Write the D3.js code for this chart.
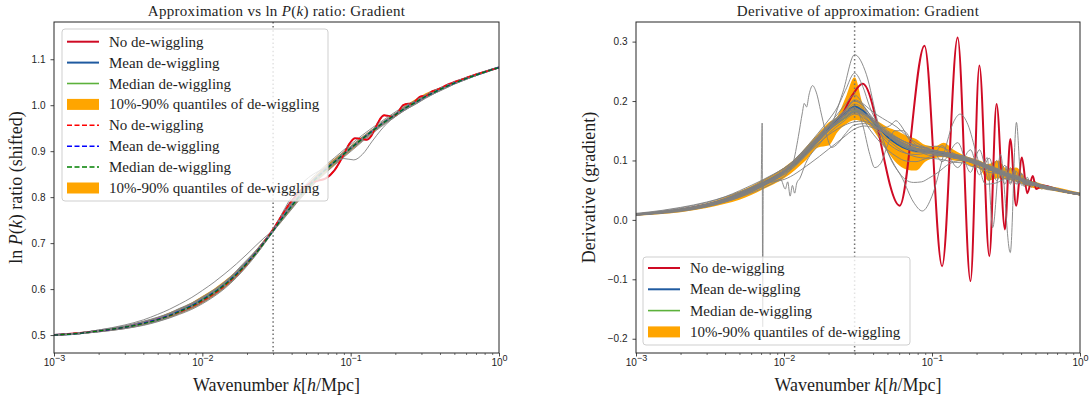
<!DOCTYPE html>
<html>
<head>
<meta charset="utf-8">
<script src="https://cdn.jsdelivr.net/npm/d3@7"></script>
<style>
  body { margin: 0; background: #fff; }
  svg { display: block; }
</style>
</head>
<body>
<svg id="chart" width="1090" height="400"></svg>
<script>
// ---------------------------------------------------------------
// Shared wavenumber grid k [h/Mpc]
const kGrid = [0.001,0.0015,0.002,0.003,0.004,0.005,0.006,0.007,0.0085,0.01,
               0.012,0.014,0.017,0.02,0.023,0.026,0.03,0.034,0.038,0.043,
               0.05,0.058,0.067,0.078,0.09,0.105,0.12,0.14,0.16,0.185,
               0.21,0.24,0.28,0.32,0.37,0.43,0.5,0.6,0.72,0.85,
               1.0];

// ---- Left panel: ln P(k) ratio (shifted) ----
const lnMean   = [0.500,0.504,0.509,0.517,0.526,0.534,0.543,0.552,0.564,0.577,
                  0.593,0.609,0.633,0.657,0.679,0.701,0.727,0.752,0.772,0.794,
                  0.818,0.840,0.859,0.877,0.894,0.912,0.927,0.944,0.958,0.972,
                  0.984,0.996,1.008,1.019,1.029,1.039,1.048,1.058,1.067,1.075,
                  1.082];
const lnMedian = [0.500,0.504,0.509,0.517,0.525,0.533,0.542,0.551,0.563,0.576,
                  0.592,0.608,0.632,0.656,0.678,0.700,0.727,0.751,0.771,0.793,
                  0.817,0.839,0.858,0.877,0.894,0.912,0.927,0.944,0.958,0.972,
                  0.984,0.996,1.008,1.019,1.029,1.039,1.048,1.058,1.067,1.075,
                  1.082];
const lnQ10    = [0.499,0.503,0.507,0.514,0.522,0.530,0.538,0.546,0.557,0.569,
                  0.585,0.601,0.626,0.651,0.674,0.697,0.724,0.746,0.765,0.786,
                  0.810,0.832,0.851,0.870,0.888,0.906,0.922,0.939,0.954,0.968,
                  0.980,0.993,1.005,1.016,1.027,1.037,1.046,1.056,1.066,1.074,
                  1.081];
const lnQ90    = [0.501,0.506,0.511,0.520,0.530,0.539,0.549,0.558,0.571,0.585,
                  0.601,0.617,0.640,0.663,0.685,0.706,0.730,0.758,0.780,0.801,
                  0.825,0.847,0.866,0.884,0.900,0.917,0.932,0.948,0.962,0.976,
                  0.988,1.002,1.015,1.026,1.034,1.041,1.050,1.060,1.068,1.076,
                  1.083];
const lnRedK   = [0.001,0.002,0.003,0.005,0.007,0.01,0.014,0.02,0.026,0.03,
                  0.034,0.04,0.047,0.054,0.0605,0.068,0.078,0.089,0.098,0.107,
                  0.117,0.128,0.138,0.149,0.158,0.168,0.182,0.195,0.209,0.226,
                  0.244,0.258,0.273,0.292,0.311,0.325,0.338,0.355,0.37,0.405,
                  0.44,0.48,0.55,0.7,0.85,1.0];
const lnRed    = [0.500,0.509,0.517,0.534,0.550,0.574,0.606,0.655,0.702,0.730,
                  0.758,0.792,0.818,0.831,0.836,0.841,0.859,0.890,0.916,0.928,
                  0.927,0.925,0.934,0.955,0.970,0.978,0.976,0.975,0.985,1.000,
                  1.003,1.003,1.009,1.018,1.020,1.021,1.025,1.030,1.032,1.037,
                  1.043,1.048,1.055,1.067,1.075,1.082];
// individual de-wiggled realisations (grey)
const lnSamples = [
  [0.500,0.505,0.511,0.520,0.530,0.539,0.548,0.558,0.570,0.583,0.599,0.615,0.639,0.662,0.684,0.705,0.729,0.756,0.777,0.799,
   0.823,0.845,0.864,0.882,0.899,0.916,0.931,0.947,0.961,0.975,0.987,0.999,1.010,1.021,1.031,1.041,1.050,1.059,1.068,1.076,1.082],
  [0.500,0.503,0.507,0.514,0.522,0.530,0.538,0.547,0.558,0.570,0.586,0.602,0.627,0.652,0.675,0.698,0.726,0.748,0.767,0.788,
   0.812,0.834,0.853,0.872,0.889,0.908,0.923,0.941,0.955,0.969,0.982,0.994,1.006,1.017,1.028,1.038,1.047,1.057,1.066,1.074,1.082],
  [0.500,0.503,0.508,0.515,0.523,0.531,0.540,0.549,0.561,0.573,0.589,0.605,0.630,0.655,0.678,0.701,0.728,0.755,0.776,0.797,
   0.820,0.841,0.860,0.878,0.895,0.912,0.928,0.945,0.959,0.973,0.985,0.997,1.009,1.020,1.030,1.040,1.049,1.058,1.067,1.075,1.082],
  [0.500,0.504,0.510,0.518,0.527,0.536,0.545,0.555,0.567,0.580,0.596,0.612,0.636,0.659,0.680,0.701,0.726,0.750,0.769,0.790,
   0.814,0.836,0.856,0.875,0.893,0.911,0.926,0.943,0.957,0.971,0.983,0.995,1.007,1.018,1.028,1.038,1.047,1.057,1.066,1.075,1.082],
  [0.500,0.504,0.508,0.516,0.524,0.532,0.541,0.550,0.562,0.575,0.591,0.607,0.631,0.655,0.677,0.700,0.727,0.753,0.774,0.796,
   0.819,0.841,0.860,0.879,0.897,0.914,0.929,0.946,0.960,0.974,0.986,0.998,1.009,1.020,1.030,1.040,1.049,1.058,1.067,1.075,1.082],
  [0.500,0.505,0.510,0.519,0.528,0.537,0.546,0.556,0.568,0.581,0.597,0.613,0.637,0.660,0.682,0.703,0.728,0.751,0.770,0.791,
   0.815,0.837,0.857,0.876,0.892,0.910,0.925,0.942,0.956,0.970,0.983,0.995,1.007,1.018,1.029,1.039,1.048,1.058,1.067,1.075,1.082],
  [0.500,0.505,0.510,0.519,0.529,0.538,0.547,0.557,0.569,0.582,0.598,0.614,0.638,0.661,0.683,0.704,0.729,0.759,0.781,0.803,
   0.827,0.849,0.868,0.886,0.903,0.920,0.935,0.951,0.964,0.978,0.990,1.001,1.012,1.023,1.033,1.042,1.051,1.060,1.069,1.076,1.082],
  [0.500,0.503,0.507,0.514,0.521,0.529,0.537,0.545,0.556,0.568,0.584,0.600,0.625,0.650,0.674,0.697,0.725,0.746,0.765,0.786,
   0.810,0.832,0.851,0.870,0.887,0.905,0.921,0.938,0.953,0.967,0.980,0.992,1.004,1.016,1.026,1.036,1.046,1.056,1.066,1.074,1.082],
  [0.500,0.505,0.511,0.522,0.533,0.545,0.556,0.567,0.582,0.597,0.615,0.632,0.655,0.676,0.695,0.711,0.729,0.753,0.773,0.795,
   0.819,0.841,0.860,0.878,0.895,0.913,0.928,0.945,0.959,0.973,0.985,0.997,1.008,1.019,1.029,1.039,1.048,1.058,1.067,1.075,1.082],
  [0.500,0.504,0.509,0.517,0.525,0.533,0.542,0.550,0.562,0.574,0.590,0.606,0.630,0.654,0.677,0.700,0.727,0.761,0.789,0.815,
   0.838,0.853,0.863,0.876,0.884,0.881,0.893,0.922,0.946,0.967,0.980,0.992,1.004,1.015,1.026,1.036,1.046,1.056,1.066,1.074,1.082],
  [0.500,0.504,0.509,0.517,0.526,0.534,0.543,0.551,0.563,0.575,0.590,0.605,0.640,0.664,0.684,0.703,0.728,0.752,0.772,0.794,
   0.818,0.840,0.859,0.877,0.894,0.912,0.927,0.944,0.958,0.972,0.984,0.996,1.008,1.019,1.029,1.039,1.048,1.058,1.067,1.075,1.082]
];

// ---- Right panel: derivative (gradient) ----
const dMean   = [0.009,0.013,0.017,0.025,0.034,0.043,0.052,0.060,0.071,0.081,
                 0.096,0.113,0.136,0.155,0.168,0.179,0.191,0.184,0.172,0.157,
                 0.140,0.128,0.120,0.116,0.115,0.113,0.111,0.107,0.104,0.099,
                 0.094,0.087,0.080,0.075,0.070,0.064,0.059,0.054,0.050,0.046,
                 0.043];
const dMedian = [0.009,0.013,0.017,0.025,0.034,0.043,0.052,0.060,0.070,0.080,
                 0.095,0.112,0.134,0.152,0.163,0.172,0.183,0.181,0.171,0.157,
                 0.141,0.129,0.121,0.117,0.115,0.113,0.111,0.107,0.104,0.099,
                 0.094,0.087,0.080,0.075,0.070,0.064,0.059,0.054,0.050,0.046,
                 0.043];
const dQ10    = [0.007,0.010,0.013,0.020,0.027,0.034,0.042,0.050,0.060,0.070,
                 0.085,0.100,0.122,0.125,0.148,0.160,0.168,0.165,0.158,0.140,
                 0.115,0.095,0.085,0.083,0.098,0.104,0.106,0.100,0.098,0.090,
                 0.086,0.066,0.070,0.068,0.064,0.058,0.053,0.051,0.047,0.044,
                 0.041];
const dQ90    = [0.010,0.014,0.019,0.028,0.038,0.048,0.057,0.066,0.077,0.088,
                 0.104,0.122,0.145,0.164,0.175,0.205,0.240,0.195,0.172,0.166,
                 0.156,0.150,0.142,0.136,0.126,0.124,0.130,0.118,0.110,0.104,
                 0.100,0.094,0.100,0.086,0.088,0.070,0.064,0.058,0.054,0.050,
                 0.046];
const dRedK   = [0.001,0.002,0.004,0.007,0.01,0.014,0.02,0.024,0.029,0.034,
                 0.0605,0.089,0.117,0.149,0.182,0.209,0.244,0.273,0.311,0.338,
                 0.370,0.405,0.440,0.480,0.505,0.560,0.700,0.850,1.000];
const dRed    = [0.009,0.017,0.034,0.060,0.081,0.113,0.155,0.172,0.210,0.229,
                 0.024,0.293,-0.078,0.307,-0.103,0.260,-0.061,0.195,-0.016,0.136,
                 0.024,0.105,0.045,0.074,0.052,0.058,0.051,0.046,0.043];
// realisations sampled on kGrid
const dSamples = [
  [0.009,0.014,0.018,0.027,0.036,0.046,0.055,0.064,0.076,0.087,0.103,0.121,0.146,0.168,0.190,0.218,0.247,0.225,0.190,0.162,
   0.146,0.138,0.130,0.124,0.120,0.117,0.114,0.110,0.106,0.101,0.096,0.090,0.082,0.077,0.072,0.066,0.061,0.055,0.051,0.047,0.044],
  [0.008,0.012,0.016,0.023,0.031,0.040,0.049,0.057,0.067,0.077,0.092,0.108,0.128,0.143,0.153,0.160,0.165,0.166,0.163,0.155,
   0.143,0.132,0.124,0.119,0.116,0.113,0.110,0.106,0.103,0.098,0.093,0.086,0.080,0.074,0.069,0.063,0.058,0.053,0.049,0.045,0.042],
  [0.009,0.013,0.017,0.025,0.033,0.042,0.051,0.059,0.070,0.080,0.095,0.112,0.135,0.156,0.170,0.182,0.195,0.188,0.174,0.158,
   0.142,0.130,0.121,0.114,0.116,0.111,0.114,0.104,0.108,0.097,0.098,0.083,0.086,0.071,0.075,0.061,0.062,0.052,0.051,0.046,0.043],
  [0.010,0.014,0.018,0.026,0.035,0.044,0.053,0.061,0.072,0.083,0.099,0.117,0.140,0.160,0.178,0.195,0.210,0.195,0.170,0.150,
   0.130,0.118,0.112,0.110,0.112,0.114,0.113,0.108,0.103,0.097,0.092,0.086,0.079,0.074,0.069,0.064,0.059,0.054,0.050,0.046,0.043],
  [0.009,0.013,0.017,0.024,0.032,0.041,0.050,0.058,0.069,0.079,0.094,0.110,0.132,0.150,0.163,0.172,0.180,0.178,0.170,0.160,
   0.148,0.138,0.130,0.124,0.122,0.124,0.121,0.112,0.105,0.100,0.095,0.089,0.083,0.078,0.071,0.065,0.060,0.055,0.051,0.047,0.044],
  [0.011,0.016,0.021,0.030,0.039,0.049,0.058,0.066,0.077,0.087,0.101,0.116,0.136,0.152,0.164,0.173,0.183,0.180,0.171,0.160,
   0.147,0.136,0.127,0.121,0.118,0.115,0.113,0.109,0.105,0.101,0.096,0.091,0.085,0.080,0.074,0.068,0.062,0.057,0.052,0.048,0.045],
  [0.008,0.012,0.015,0.022,0.030,0.038,0.047,0.055,0.066,0.076,0.091,0.108,0.131,0.152,0.166,0.176,0.186,0.178,0.165,0.150,
   0.135,0.122,0.112,0.106,0.104,0.103,0.101,0.097,0.096,0.090,0.088,0.080,0.078,0.068,0.070,0.060,0.058,0.051,0.049,0.045,0.042],
  [0.009,0.013,0.017,0.025,0.034,0.043,0.052,0.060,0.071,0.082,0.098,0.115,0.139,0.158,0.172,0.184,0.200,0.192,0.178,0.162,
   0.146,0.134,0.125,0.120,0.118,0.116,0.114,0.111,0.107,0.102,0.097,0.091,0.084,0.078,0.073,0.066,0.061,0.056,0.051,0.047,0.044],
  [0.009,0.013,0.018,0.026,0.035,0.044,0.053,0.061,0.072,0.082,0.097,0.114,0.137,0.157,0.172,0.186,0.202,0.196,0.186,0.176,
   0.166,0.156,0.142,0.130,0.122,0.116,0.112,0.108,0.105,0.100,0.095,0.088,0.082,0.076,0.071,0.065,0.060,0.055,0.051,0.047,0.044],
  [0.009,0.013,0.017,0.025,0.033,0.042,0.051,0.059,0.070,0.080,0.095,0.111,0.133,0.151,0.163,0.173,0.183,0.170,0.152,0.135,
   0.118,0.106,0.099,0.098,0.103,0.108,0.108,0.104,0.101,0.097,0.092,0.085,0.078,0.073,0.068,0.063,0.058,0.053,0.049,0.045,0.042]
];
// realisations with their own k sampling
const dOutliers = [
  { k: [0.001,0.002,0.003,0.005,0.007,0.01,0.014,0.02,0.025,0.03,0.036,0.043,0.052,0.063,0.075,0.086,0.1,0.12,0.14,0.155,0.175,0.2,0.23,0.27,0.32,0.4,0.5,0.65,0.8,1.0],
    v: [0.009,0.018,0.026,0.045,0.062,0.085,0.120,0.150,0.215,0.278,0.245,0.165,0.105,0.070,0.030,0.015,0.040,0.110,0.165,0.178,0.160,0.110,0.060,0.062,0.070,0.062,0.057,0.051,0.047,0.044] },
  { k: [0.001,0.003,0.01,0.02,0.03,0.05,0.08,0.12,0.16,0.19,0.215,0.236,0.257,0.29,0.338,0.372,0.40,0.45,0.55,0.7,1.0],
    v: [0.009,0.025,0.080,0.152,0.185,0.142,0.116,0.110,0.105,0.098,0.085,0.105,-0.013,0.110,-0.055,0.164,0.066,0.062,0.056,0.050,0.043] },
  { k: [0.001,0.003,0.005,0.007,0.009,0.0105,0.0115,0.0125,0.0133,0.0137,0.0142,0.0148,0.0156,0.0165,0.018,0.0195,0.021,0.023,0.026,0.03,0.035,0.042,0.05,0.065,0.09,0.15,0.3,1.0],
    v: [0.008,0.022,0.038,0.052,0.066,0.078,0.095,0.140,0.180,0.196,0.190,0.212,0.226,0.215,0.175,0.140,0.122,0.128,0.145,0.160,0.162,0.155,0.142,0.125,0.113,0.103,0.077,0.043] },
  { k: [0.001,0.002,0.003,0.004,0.005,0.006,0.0068,0.0070,0.00712,0.00718,0.00724,0.0074,0.0078,0.0085,0.0095,0.0102,0.0106,0.0110,0.0114,0.0118,0.0122,0.0128,0.014,0.017,0.02,0.025,0.03,0.04,0.06,0.1,0.2,0.4,1.0],
    v: [0.009,0.017,0.024,0.032,0.040,0.050,0.056,0.060,0.163,-0.180,0.055,0.060,0.062,0.065,0.068,0.052,0.064,0.040,0.058,0.045,0.062,0.070,0.095,0.125,0.145,0.165,0.178,0.160,0.132,0.112,0.097,0.068,0.043] },
  { k: [0.001,0.002,0.003,0.005,0.007,0.0085,0.01,0.015,0.02,0.025,0.03,0.035,0.04,0.05,0.06,0.075,0.09,0.11,0.14,0.2,0.3,0.5,1.0],
    v: [0.010,0.020,0.029,0.047,0.060,0.064,0.068,0.095,0.119,0.138,0.153,0.158,0.155,0.145,0.133,0.122,0.116,0.112,0.106,0.094,0.078,0.058,0.042] },
  { k: [0.001,0.003,0.01,0.02,0.026,0.03,0.035,0.04,0.047,0.053,0.057,0.062,0.07,0.08,0.1,0.14,0.2,0.3,0.5,1.0],
    v: [0.010,0.026,0.083,0.160,0.185,0.200,0.190,0.168,0.155,0.160,0.167,0.158,0.135,0.118,0.112,0.108,0.095,0.079,0.060,0.044] },
  { k: [0.001,0.003,0.01,0.02,0.026,0.03,0.036,0.043,0.05,0.058,0.066,0.075,0.085,0.095,0.11,0.13,0.16,0.2,0.3,0.5,1.0],
    v: [0.009,0.024,0.079,0.150,0.172,0.182,0.170,0.145,0.115,0.085,0.068,0.063,0.064,0.070,0.080,0.094,0.100,0.095,0.079,0.059,0.043] },
  { k: [0.001,0.003,0.01,0.02,0.026,0.03,0.034,0.038,0.041,0.045,0.05,0.056,0.064,0.075,0.09,0.12,0.2,0.3,0.5,1.0],
    v: [0.009,0.025,0.081,0.155,0.178,0.190,0.160,0.110,0.088,0.095,0.125,0.150,0.150,0.130,0.117,0.110,0.094,0.078,0.059,0.043] },
  { k: [0.001,0.003,0.01,0.02,0.03,0.04,0.05,0.065,0.08,0.1,0.117,0.149,0.182,0.209,0.244,0.273,0.311,0.338,0.370,0.405,0.440,0.5,0.6,0.8,1.0],
    v: [0.009,0.025,0.082,0.157,0.188,0.165,0.142,0.122,0.117,0.118,0.098,0.130,0.080,0.118,0.066,0.100,0.060,0.088,0.060,0.078,0.058,0.060,0.054,0.048,0.043] },
  { k: [0.001,0.003,0.01,0.02,0.03,0.04,0.05,0.065,0.08,0.1,0.117,0.149,0.182,0.209,0.244,0.273,0.311,0.338,0.370,0.405,0.440,0.5,0.6,0.8,1.0],
    v: [0.010,0.026,0.080,0.153,0.186,0.168,0.145,0.126,0.116,0.108,0.125,0.088,0.118,0.076,0.104,0.066,0.092,0.060,0.082,0.058,0.068,0.058,0.054,0.048,0.043] },
  { k: [0.001,0.003,0.01,0.02,0.03,0.04,0.05,0.065,0.08,0.1,0.13,0.16,0.2,0.24,0.28,0.3,0.32,0.34,0.36,0.38,0.40,0.42,0.44,0.47,0.5,0.55,0.6,0.8,1.0],
    v: [0.009,0.024,0.080,0.150,0.182,0.170,0.150,0.132,0.125,0.118,0.112,0.108,0.100,0.092,0.085,0.070,0.090,0.062,0.085,0.060,0.078,0.056,0.072,0.055,0.064,0.052,0.056,0.048,0.043] }
];

// Axis ticks and reference scale
const xTicks = [0.001, 0.01, 0.1, 1];
const xTickExps = ['−3', '−2', '−1', '0'];
const yTicksLeft = [0.5, 0.6, 0.7, 0.8, 0.9, 1.0, 1.1];
const yTicksRight = [-0.2, -0.1, 0.0, 0.1, 0.2, 0.3];
const kMarker = 0.03;

const legendLabels = ['No de-wiggling', 'Mean de-wiggling', 'Median de-wiggling',
                      '10%-90% quantiles of de-wiggling'];

// ---------------------------------------------------------------
const RED = '#cf0a24', BLUE = '#1f5aa0', GREEN = '#5cb13b',
      ORANGE = '#ffa500', GRAY = '#808080';
const SERIF = '"Liberation Serif", "Times New Roman", serif';
const INK = '#1e1e1e';

const svg = d3.select('#chart');
const defs = svg.append('defs');

function makePanel(cfg) {
  const x = d3.scaleLog().domain([1e-3, 1]).range([cfg.x0, cfg.x1]);
  const y = d3.scaleLinear().domain(cfg.yDomain).range([cfg.y1, cfg.y0]);
  defs.append('clipPath').attr('id', cfg.id + '-clip')
    .append('rect').attr('x', cfg.x0).attr('y', cfg.y0)
    .attr('width', cfg.x1 - cfg.x0).attr('height', cfg.y1 - cfg.y0);
  const g = svg.append('g');
  const plot = g.append('g').attr('clip-path', `url(#${cfg.id}-clip)`);
  const line = d3.line().x(d => x(d[0])).y(d => y(d[1])).curve(d3.curveMonotoneX);
  const area = d3.area().x(d => x(d[0])).y0(d => y(d[1])).y1(d => y(d[2]))
    .curve(d3.curveMonotoneX);
  return { cfg, x, y, g, plot, line, area };
}

function drawLine(p, ks, vs, color, width, dash) {
  p.plot.append('path')
    .attr('d', p.line(d3.zip(ks, vs)))
    .attr('fill', 'none').attr('stroke', color).attr('stroke-width', width)
    .attr('stroke-linejoin', 'round')
    .attr('stroke-dasharray', dash || null);
}

function drawBand(p, ks, lo, hi) {
  p.plot.append('path')
    .attr('d', p.area(d3.zip(ks, lo, hi)))
    .attr('fill', ORANGE).attr('stroke', 'none');
}

function drawMarker(p) {
  p.plot.append('line')
    .attr('x1', p.x(kMarker)).attr('x2', p.x(kMarker))
    .attr('y1', p.cfg.y0).attr('y2', p.cfg.y1)
    .attr('stroke', '#707070').attr('stroke-width', 1.5)
    .attr('stroke-dasharray', '1.5,2.6');
}

function drawAxes(p, yTicks, yLabel, title) {
  const { cfg, x, y, g } = p;
  // minor ticks on the log axis
  const minor = x.ticks().filter(t => !xTicks.some(m => Math.abs(m - t) / m < 1e-9));
  g.append('g').attr('transform', `translate(0,${cfg.y1})`)
    .call(d3.axisBottom(x).tickValues(minor).tickSize(2).tickFormat(() => ''))
    .call(a => a.select('.domain').remove())
    .call(a => a.selectAll('.tick line').attr('stroke', '#333').attr('stroke-width', 0.7));
  // major ticks with 10^n labels
  const gx = g.append('g').attr('transform', `translate(0,${cfg.y1})`)
    .attr('font-family', SERIF).attr('font-size', 12.5)
    .call(d3.axisBottom(x).tickValues(xTicks).tickSize(3.5).tickFormat((d, i) => xTickExps[i]));
  gx.select('.domain').remove();
  gx.selectAll('.tick line').attr('stroke', '#333').attr('stroke-width', 0.9);
  gx.selectAll('.tick text').each(function () {
    const t = d3.select(this);
    const e = t.text();
    t.text(null).attr('y', 13).attr('dy', null).attr('fill', INK);
    t.append('tspan').text('10');
    t.append('tspan').attr('dy', -5).attr('font-size', 9).text(e);
  });
  // y axis
  const gy = g.append('g').attr('transform', `translate(${cfg.x0},0)`)
    .attr('font-family', SERIF).attr('font-size', 12.5)
    .call(d3.axisLeft(y).tickValues(yTicks).tickSize(3.5).tickPadding(5)
      .tickFormat(d3.format('.1f')));
  gy.select('.domain').remove();
  gy.selectAll('.tick line').attr('stroke', '#333').attr('stroke-width', 0.9);
  gy.selectAll('.tick text').attr('fill', INK);
  // frame
  g.append('rect').attr('x', cfg.x0).attr('y', cfg.y0)
    .attr('width', cfg.x1 - cfg.x0).attr('height', cfg.y1 - cfg.y0)
    .attr('fill', 'none').attr('stroke', '#262626').attr('stroke-width', 1);
  // x label
  const xl = g.append('text').attr('x', (cfg.x0 + cfg.x1) / 2).attr('y', 391)
    .attr('text-anchor', 'middle').attr('font-family', SERIF).attr('font-size', 18)
    .attr('fill', INK);
  xl.append('tspan').text('Wavenumber ');
  xl.append('tspan').attr('font-style', 'italic').text('k');
  xl.append('tspan').text('[');
  xl.append('tspan').attr('font-style', 'italic').text('h');
  xl.append('tspan').text('/Mpc]');
  // y label
  const yl = g.append('text')
    .attr('transform', `translate(${cfg.yLabelX},${(cfg.y0 + cfg.y1) / 2}) rotate(-90)`)
    .attr('text-anchor', 'middle').attr('font-family', SERIF).attr('font-size', 18)
    .attr('fill', INK);
  yLabel.forEach(([s, it]) => yl.append('tspan').attr('font-style', it ? 'italic' : null).text(s));
  // title
  const tt = g.append('text').attr('x', (cfg.x0 + cfg.x1) / 2).attr('y', 16)
    .attr('text-anchor', 'middle').attr('font-family', SERIF).attr('font-size', 15)
    .attr('letter-spacing', 0.3).attr('fill', INK);
  title.forEach(([s, it]) => tt.append('tspan').attr('font-style', it ? 'italic' : null).text(s));
}

function drawLegend(p, box, rowH, items) {
  const lg = p.g.append('g').attr('font-family', SERIF).attr('font-size', 15);
  lg.append('rect').attr('x', box.x).attr('y', box.y)
    .attr('width', box.w).attr('height', box.h).attr('rx', 3)
    .attr('fill', '#fff').attr('fill-opacity', 0.8)
    .attr('stroke', '#cfcfcf').attr('stroke-width', 1);
  items.forEach((it, i) => {
    const cy = box.y + box.first + i * rowH;
    if (it.patch) {
      lg.append('rect').attr('x', box.x + 5).attr('y', cy - 5.5)
        .attr('width', 32).attr('height', 11).attr('fill', it.color);
    } else {
      lg.append('line').attr('x1', box.x + 5).attr('x2', box.x + 37)
        .attr('y1', cy).attr('y2', cy)
        .attr('stroke', it.color).attr('stroke-width', it.width)
        .attr('stroke-dasharray', it.dash || null);
    }
    lg.append('text').attr('x', box.x + 47).attr('y', cy + 5)
      .attr('fill', INK).text(it.label);
  });
}

// ---------------- Left panel ----------------
const left = makePanel({ id: 'lnp', x0: 54, x1: 499, y0: 22, y1: 353,
                         yDomain: [0.461, 1.181], yLabelX: 22 });
drawBand(left, kGrid, lnQ10, lnQ90);
drawLine(left, lnRedK, lnRed, RED, 2);
drawLine(left, kGrid, lnMean, BLUE, 2);
drawLine(left, kGrid, lnMedian, GREEN, 1.6);
lnSamples.forEach(s => drawLine(left, kGrid, s, GRAY, 0.9));
drawLine(left, lnRedK, lnRed, '#ff0000', 1.3, '4,2.5');
drawLine(left, kGrid, lnMean, '#0000ff', 1.2, '4,2.5');
drawLine(left, kGrid, lnMedian, '#008000', 1.2, '4,2.5');
drawMarker(left);
drawAxes(left, yTicksLeft,
  [['ln '], ['P', true], ['('], ['k', true], [') ratio (shifted)']],
  [['Approximation vs ln '], ['P', true], ['('], ['k', true], [') ratio: Gradient']]);
drawLegend(left, { x: 62, y: 29, w: 266, h: 172, first: 12.7 }, 20.9, [
  { label: legendLabels[0], color: RED, width: 2 },
  { label: legendLabels[1], color: BLUE, width: 2 },
  { label: legendLabels[2], color: GREEN, width: 1.6 },
  { label: legendLabels[3], color: ORANGE, patch: true },
  { label: legendLabels[0], color: '#ff0000', width: 1.5, dash: '5,2.5' },
  { label: legendLabels[1], color: '#0000ff', width: 1.5, dash: '5,2.5' },
  { label: legendLabels[2], color: '#008000', width: 1.5, dash: '5,2.5' },
  { label: legendLabels[3], color: ORANGE, patch: true }
]);

// ---------------- Right panel ----------------
const right = makePanel({ id: 'deriv', x0: 636, x1: 1080, y0: 22, y1: 353,
                          yDomain: [-0.224, 0.333], yLabelX: 595 });
drawBand(right, kGrid, dQ10, dQ90);
drawLine(right, dRedK, dRed, RED, 2);
drawLine(right, kGrid, dMedian, GREEN, 1.6);
drawLine(right, kGrid, dMean, BLUE, 2);
dSamples.forEach(s => drawLine(right, kGrid, s, GRAY, 0.9));
dOutliers.forEach(o => drawLine(right, o.k, o.v, GRAY, 0.9));
drawMarker(right);
drawAxes(right, yTicksRight,
  [['Derivative (gradient)']],
  [['Derivative of approximation: Gradient']]);
drawLegend(right, { x: 643, y: 257, w: 267, h: 88, first: 11 }, 21.3, [
  { label: legendLabels[0], color: RED, width: 2 },
  { label: legendLabels[1], color: BLUE, width: 2 },
  { label: legendLabels[2], color: GREEN, width: 1.6 },
  { label: legendLabels[3], color: ORANGE, patch: true }
]);
</script>
</body>
</html>
